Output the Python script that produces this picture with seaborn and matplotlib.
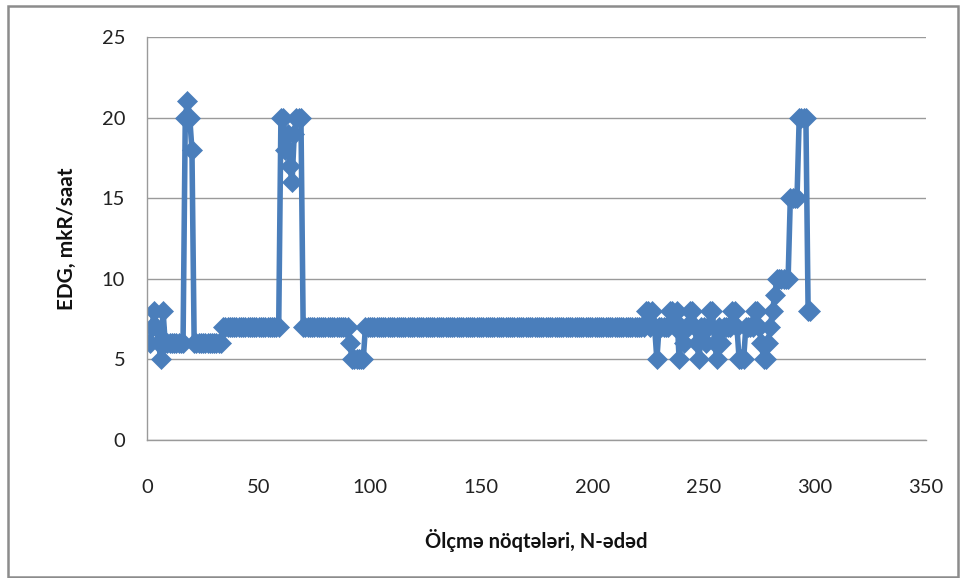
import matplotlib
matplotlib.use("Agg")
import matplotlib.pyplot as plt
from matplotlib.patches import Rectangle
import seaborn as sns
import pandas as pd

# Dose-rate readings (EDG, mkR/saat) at measurement points 1..298
edg_values = [
    6, 7, 8, 7, 6, 5, 8, 6, 6, 6, 6, 6, 6, 6, 6, 6,
    20, 21, 20, 18, 6,
    6, 6, 6, 6, 6, 6, 6, 6, 6, 6, 6, 6,
    7, 7, 7, 7, 7, 7, 7, 7, 7, 7, 7, 7, 7, 7, 7, 7, 7, 7, 7, 7, 7, 7, 7, 7, 7, 7,
    20, 20, 18, 19, 17, 16, 19, 20, 20, 20,
    7, 7, 7, 7, 7, 7, 7, 7, 7, 7, 7, 7, 7, 7, 7, 7, 7, 7, 7, 7, 7,
    6, 5, 5, 5, 5, 5, 5,
    7, 7, 7, 7, 7, 7, 7, 7, 7, 7, 7, 7, 7, 7, 7, 7, 7, 7, 7, 7, 7, 7,
    7, 7, 7, 7, 7, 7, 7, 7, 7, 7, 7, 7, 7, 7, 7, 7, 7, 7, 7, 7, 7, 7,
    7, 7, 7, 7, 7, 7, 7, 7, 7, 7, 7, 7, 7, 7, 7, 7, 7, 7, 7, 7, 7, 7,
    7, 7, 7, 7, 7, 7, 7, 7, 7, 7, 7, 7, 7, 7, 7, 7, 7, 7, 7, 7, 7, 7,
    7, 7, 7, 7, 7, 7, 7, 7, 7, 7, 7, 7, 7, 7, 7, 7, 7, 7, 7, 7, 7, 7,
    7, 7, 7, 7, 7, 7, 7, 7, 7, 7, 7, 7, 7, 7, 7, 7,
    8, 8, 7, 8, 7, 5, 7, 7, 7, 7, 7, 8, 8, 7, 8, 5, 7, 6, 7, 7,
    8, 8, 7, 6, 5, 7, 7, 6, 7, 8, 8, 6, 5, 7, 6, 7, 7, 7, 7, 8,
    8, 7, 5, 5, 5, 7, 7, 7, 7, 8, 8, 7, 6, 5, 5,
    6, 7, 8, 9, 10, 10, 10, 10, 10, 10,
    15, 15, 15, 15, 20, 20, 20, 20, 8, 8,
]
point_numbers = list(range(1, len(edg_values) + 1))

x_ticks = [0, 50, 100, 150, 200, 250, 300, 350]
y_ticks = [0, 5, 10, 15, 20, 25]
x_title = "Ölçmə nöqtələri, N-ədəd"
y_title = "EDG, mkR/saat"

df = pd.DataFrame({"N": point_numbers, "EDG": edg_values})

sns.set_style("white")
plt.rcParams["font.family"] = ["Lato", "DejaVu Sans"]

fig = plt.figure(figsize=(9.6, 5.78), dpi=100)
ax = fig.add_axes([0.1536, 0.2388, 0.8110, 0.6972])

blue = "#4a7ebb"
sns.lineplot(data=df, x="N", y="EDG", ax=ax, color=blue, linewidth=4.0,
             marker="D", markersize=10.5, markeredgecolor=blue,
             markeredgewidth=0.5, sort=False)

ax.set_xlim(0, 350)
ax.set_ylim(0, 25)
ax.set_xticks(x_ticks)
ax.set_yticks(y_ticks)
ax.tick_params(axis="both", labelsize=14.5, colors="#222222", length=0)
ax.tick_params(axis="y", pad=16)
ax.tick_params(axis="x", pad=28)
ax.yaxis.grid(True, color="#9a9a9a", linewidth=1.0)
ax.xaxis.grid(False)
ax.set_axisbelow(True)
for side in ("top", "right"):
    ax.spines[side].set_visible(False)
for side in ("left", "bottom"):
    ax.spines[side].set_color("#9a9a9a")
    ax.spines[side].set_linewidth(1.0)

ax.set_xlabel(x_title, fontsize=14.5, fontweight="bold", labelpad=24, color="#111111")
ax.set_ylabel(y_title, fontsize=15, fontweight="bold", labelpad=18, color="#111111")

# Gray frame around the whole chart
fig.patches.append(Rectangle((0.008, 0.002), 0.990, 0.988, transform=fig.transFigure,
                             fill=False, edgecolor="#8c8c8c", linewidth=1.8))

fig.savefig("out.png", dpi=100)
